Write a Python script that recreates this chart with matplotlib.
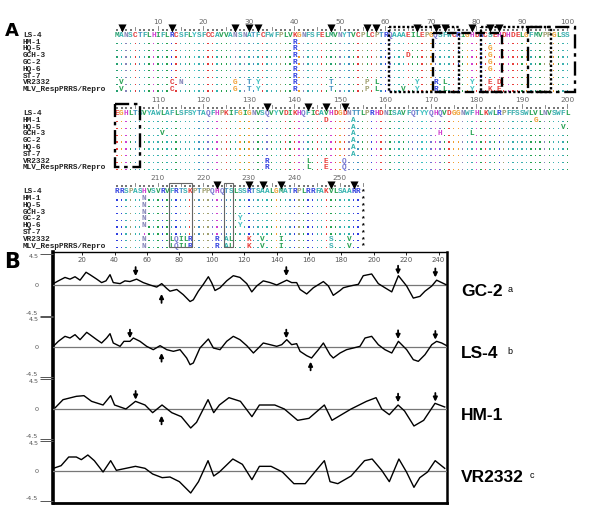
import matplotlib
matplotlib.use("Agg")
import matplotlib.pyplot as plt
from matplotlib.patches import Rectangle

# ---------------- data ----------------
strains = ["LS-4", "HM-1", "HQ-5", "GCH-3", "GC-2", "HQ-6", "ST-7", "VR2332", "MLV_RespPRRS/Repro"]

ls4_block1 = "MANSCTFLHIFLRCSFLYSFCCAVVANSNATFCFWFPLVKGNFSFELMVNYTVCPLCPTRQAAAEILEPGQSFWCRIGHDRCSEHDHDELGFMVPPGLSS"
ls4_block2 = "EGHLTSVYAWLAFLSFSYTAQFHPKIFGIGNVSQVYVDIKHQFICAVHDGDNTTLPRHDNISAVFQTYYQHQVDGGNWFHLKWLRPFFSSWLVLNVSWFL"
ls4_block3 = "RRSPASHVSVRVFRTSKPTPPQHQTSLSSRTSAALGMATRPLRRFAKVLSAARR*"
block_starts = [1, 101, 201]

diffs = {
    "HM-1": {40: "R", 147: "D", 153: "A", 193: "G", 207: "N"},
    "HQ-5": {40: "R", 83: "G", 153: "A", 199: "V", 207: "N"},
    "GCH-3": {40: "R", 65: "D", 83: "G", 111: "V", 153: "A", 172: "H", 179: "L", 207: "N"},
    "GC-2": {40: "R", 83: "G", 153: "A", 207: "N", 228: "Y"},
    "HQ-6": {40: "R", 83: "G", 153: "A", 207: "N", 228: "Y"},
    "ST-7": {40: "R", 153: "A"},
    "VR2332": {2: "V", 13: "C", 15: "N", 27: "G", 30: "T", 32: "Y", 40: "R", 48: "T", 56: "P",
               58: "L", 67: "Y", 71: "R", 73: "L", 79: "Y", 83: "E", 85: "D", 134: "R", 143: "L",
               147: "E", 151: "Q", 207: "N", 213: "L", 214: "Q", 215: "I", 216: "L", 217: "R",
               223: "R", 225: "A", 226: "L", 230: "K", 233: "V", 237: "I", 248: "S", 252: "V"},
    "MLV_RespPRRS/Repro": {2: "V", 13: "C", 27: "G", 30: "T", 32: "Y", 40: "R", 48: "T", 56: "P",
                           58: "L", 64: "V", 67: "Y", 71: "R", 73: "L", 79: "Y", 83: "K", 85: "E",
                           134: "R", 143: "L", 147: "E", 151: "Q", 207: "N", 213: "L", 214: "Q",
                           215: "I", 216: "L", 217: "R", 223: "R", 225: "A", 226: "L", 230: "K",
                           233: "V", 237: "I", 248: "S", 252: "V"},
}

triangle_sites = [2, 13, 27, 30, 32, 48, 56, 58, 67, 71, 73, 79, 83, 85,
                  134, 143, 147, 151, 223, 230, 233, 237, 248, 253]

aa_colors = {"A": "#2fb2ae", "C": "#e03a3a", "D": "#e8403c", "E": "#e8403c", "F": "#36acac",
             "G": "#f0a030", "H": "#d040d0", "I": "#25a050", "K": "#e8403c", "L": "#25a050",
             "M": "#25a070", "N": "#8585b8", "P": "#a0a070", "Q": "#7575d0", "R": "#2f3fe0",
             "S": "#3cb0b0", "T": "#3e90c0", "V": "#25a050", "W": "#3cb0b0", "Y": "#3cc0c0",
             "*": "black"}

# hydrophobicity profiles (residue position, value)
gc2_profile = [(2.2, 0.2), (5.3, 0.6), (9.4, 1.1), (12.5, 0.85), (15.6, 1.2), (18.7, 0.7), (22.4, 1.85),
               (24.8, 1.5), (29, 0.85), (32, 0.35), (34.7, 0.6), (37.2, 1.5), (39.2, 0.35), (43.4, 0.2),
               (46.4, 0.6), (49.5, 0.5), (53.6, 0.85), (57.7, 0.35), (61.9, 0), (66, -0.3), (69.1, 0.2),
               (72.2, -0.5), (74.2, -0.9), (78.4, -0.65), (82.4, -1.4), (86.6, -2.4), (88.6, -2.15),
               (91.7, -0.9), (94.8, 0.1), (97.9, 1.2), (99.9, 0.35), (102, -0.8), (105.1, -0.4),
               (109.2, 0.6), (113.3, 1.35), (117.4, 1.1), (121.6, 0.2), (124.7, -1.0), (127.7, -0.15),
               (131.8, 0.6), (136, 0.35), (140.1, 0), (143.2, 0.35), (146.3, 0.7), (149.3, 0.35),
               (152.4, 0.35), (154.5, -0.65), (158.6, -1.3), (162.7, -0.4), (168.9, 0.5), (172, -0.15),
               (175, -1.5), (179.2, -0.8), (181.2, -0.4), (185.3, -0.15), (190.5, 0.1), (193.5, 1.35),
               (198.7, 1.6), (202.8, 0.2), (206.9, -0.4), (211.1, -1.0), (215.2, 1.35), (220.3, -0.15),
               (224.4, -1.9), (228.5, -1.65), (231.6, -0.9), (235.8, -0.15), (238.8, 0.7), (241.9, 0.35),
               (245, 0)]
ls4_profile = [(2.2, 0.1), (5.3, 0.85), (9.4, 1.6), (12.5, 1.35), (15.6, 1.85), (18.7, 1.1), (22.8, 2.2),
               (24.8, 1.85), (29, 1.1), (32, 0.6), (35.1, 1.35), (37.2, 2.0), (39.2, 0.6), (43.4, 0.1),
               (45.8, 0.85), (49.5, 0.85), (51.6, 1.35), (55.7, 0.85), (59.8, 0.1), (63.9, -0.4),
               (68.1, 0.2), (72.2, -0.4), (76.3, -0.65), (80.4, -0.4), (84.5, -1.65), (86.6, -2.65),
               (88.6, -2.4), (92.7, -0.15), (97.9, 1.2), (101, -0.15), (105.1, -0.4), (109.2, 0.85),
               (113.3, 1.6), (117.4, 1.1), (121.6, 0.2), (125.7, -0.9), (128.8, -0.15), (131.8, 0.6),
               (136, 0.35), (140.1, 0.1), (143.2, 0.35), (146.3, 1.1), (149.3, 0.35), (152.4, 0.5),
               (154.5, -0.65), (158.6, -1.3), (161.6, -1.65), (165.8, -0.4), (168.9, 0.6), (173, -1.15),
               (175, -1.65), (179.2, -0.9), (183.2, -0.4), (187.4, -0.15), (191.5, 0.1), (194.6, 1.35),
               (198.7, 1.6), (202.8, 0.35), (206.9, -0.4), (211.1, -0.9), (215.2, 0.85), (220.3, -0.4),
               (224.4, -1.9), (227.5, -2.15), (231.6, -1.15), (235.8, 0.35), (238.8, 0.85), (241.9, 0.6),
               (245, 0.2)]
hm1_profile = [(3.4, 0.2), (8.2, 1.4), (16.4, 1.9), (21.1, 2.0), (25.8, 1.15), (32.9, 0.6), (37.6, 2.0),
               (40, 0.6), (47, 0), (52.9, 1.15), (58.8, 0.6), (63.5, -0.55), (69.3, 0.6), (75.3, -0.55),
               (81.2, -1.15), (87, -2.85), (90.6, -2.0), (97.7, 1.4), (101.2, -0.55), (104.7, 0.6),
               (110.6, 1.7), (117.7, 1.15), (124.8, -1.15), (129.4, 0.6), (138.9, 0.6), (144.8, 0),
               (153, -1.7), (160, -1.4), (169.5, 0.6), (174.2, -1.7), (180.1, -0.85), (186, 0),
               (195.5, 1.15), (201.4, 1.7), (204.9, 0), (209.6, -0.85), (215, 0.6), (219, -0.3),
               (224.8, -2.55), (230.8, -1.7), (237.8, 0.85), (243.8, 0.3)]
vr2332_profile = [(2.2, 0.4), (7, 0.8), (11.7, 2.1), (16.4, 2.1), (19.5, 1.7), (23.5, 2.4), (27.5, 1.55),
                  (32.9, -0.15), (37.6, 1.55), (41.1, 0.1), (47, 0.4), (52.9, 0.7), (58.8, 0.4),
                  (63.5, -0.45), (69.4, -1.0), (74.2, -0.9), (80, -1.6), (87, -3.3), (91.8, -1.6),
                  (97.7, 1.55), (101.2, -0.75), (104.7, -0.15), (113, 1.8), (118.9, 1.0), (124.8, -1.3),
                  (129.4, 0.7), (136.6, 0.7), (143.6, -0.15), (150.7, -1.9), (157.7, -1.9), (163.6, -0.15),
                  (169.5, 1.55), (173, -1.6), (177.8, -1.9), (186, -0.75), (194.3, 1.55), (199, 1.8),
                  (204.9, 0.1), (209.6, -1.6), (215.5, 1.8), (220.2, -0.15), (224.8, -2.45), (228.4, -1.0),
                  (233.2, -0.15), (237.9, 1.55), (243.8, 0.4)]

profile_names = ["GC-2", "LS-4", "HM-1", "VR2332"]
profile_sups = ["a", "b", "", "c"]
profiles = [gc2_profile, ls4_profile, hm1_profile, vr2332_profile]
# arrows: (position, tip level)
down_arrows = [[(53, 1.3), (146, 1.3), (215, 1.5), (238, 1.1)],
               [(49.5, 1.3), (146, 1.3), (215, 1.2), (238, 1.1)],
               [(53, 1.4), (215, 1.0), (238, 1.1)],
               []]
up_arrows = [[(69, -1.3)], [(69, -0.9), (161, -2.2)], [(69, -1.0)], []]
top_ticks = [20, 40, 60, 80, 100, 120, 140, 160, 180, 200, 220, 240]

# ---------------- figure ----------------
W, H = 600, 514
fig = plt.figure(figsize=(W / 100, H / 100), dpi=100)
fig.patch.set_facecolor("white")

def c_of_px(x):
    return (x - 117) / 4.55 + 1

def row_of_px(y):
    return (y - 28.5) / 6.8

def rect(x0, y0, x1, y1):
    return [x0 / W, 1 - y1 / H, (x1 - x0) / W, (y1 - y0) / H]

axA = fig.add_axes([0, 0, 1, 1])
axA.set_xlim(c_of_px(0), c_of_px(W))
axA.set_ylim(row_of_px(H), row_of_px(0))
axA.axis("off")

ls4_full = ls4_block1 + ls4_block2 + ls4_block3
blocks = [ls4_block1, ls4_block2, ls4_block3]
ruler_rows = [0.0, 11.5, 23.0]
seq_font = dict(family="Liberation Mono", weight="bold", fontsize=5.6)

tri_c, tri_r = [], []
for b, seg in enumerate(blocks):
    start = block_starts[b]
    rr = ruler_rows[b]
    # ruler
    dot_c = []
    for j in range(1, len(seg) + 1):
        pos = start + j - 1
        if pos % 10 == 0:
            axA.plot([j, j], [rr - 0.35, rr + 0.2], color="#777777", lw=0.6)
            axA.text(j, rr - 0.95, str(pos), ha="center", va="center", fontsize=5.3,
                     color="#666666", family="DejaVu Sans")
        elif pos % 5 == 0:
            axA.plot([j, j], [rr - 0.25, rr + 0.2], color="#777777", lw=0.6)
        else:
            dot_c.append(j)
        if pos in triangle_sites:
            tri_c.append(j)
            tri_r.append(rr)
    axA.scatter(dot_c, [rr + 0.15] * len(dot_c), s=0.8, marker="s", color="#777777", linewidths=0)
    # rows
    for i, name in enumerate(strains):
        y = rr + 1 + i
        axA.text(c_of_px(23), y, name, ha="left", va="center", color="#222222", **seq_font)
        dx, dcol = [], []
        for j, ch in enumerate(seg, start=1):
            pos = start + j - 1
            if i == 0 or ch == "*":
                axA.text(j, y, ch, ha="center", va="center", color=aa_colors.get(ch, "k"), **seq_font)
            elif pos in diffs[name]:
                d = diffs[name][pos]
                axA.text(j, y, d, ha="center", va="center", color=aa_colors.get(d, "k"), **seq_font)
            else:
                dx.append(j)
                dcol.append(aa_colors.get(ch, "k"))
        axA.scatter(dx, [y + 0.2] * len(dx), s=1.0, marker="s", c=dcol, linewidths=0)

axA.scatter(tri_c, tri_r, marker="v", s=34, color="black", zorder=5, linewidths=0)

# boxes in block 1 / 2
dot_ls = (0, (1, 0.9))
dash_ls = (0, (4, 2))
dashdot_ls = (0, (6, 2, 1.5, 2))
box_specs = [((60.8, -0.2), 76.2 - 60.8, 9.5, dot_ls),
             ((70.4, 0.6), 85.6 - 70.4, 8.7, dash_ls),
             ((81.0, -0.2), 96.4 - 81.0, 9.5, dot_ls),
             ((91.3, -0.2), 101.7 - 91.3, 9.5, dashdot_ls),
             ((0.56, 11.1), 6.05 - 0.56, 9.3, dashdot_ls)]
for (xy, w, h, ls) in box_specs:
    axA.add_patch(Rectangle(xy, w, h, fill=False, lw=1.7, ls=ls, edgecolor="black", zorder=4))
for (x0, x1) in [(12.5, 17.5), (24.5, 26.5)]:
    axA.add_patch(Rectangle((x0, 22.7), x1 - x0, 9.4, fill=False, lw=0.8, edgecolor="#666666", zorder=4))

fig.text(5 / W, 1 - 36 / H, "A", fontsize=13, weight="bold", family="DejaVu Sans", va="baseline")
fig.text(4 / W, 1 - 268 / H, "B", fontsize=15, weight="bold", family="DejaVu Sans", va="baseline")

# ---------------- panel B ----------------
x_lo, x_hi = 2.0, 245.2
fx0, fx1, fy0, fy1 = 53, 447, 252, 503
frame = fig.add_axes(rect(fx0, fy0, fx1, fy1))
frame.set_facecolor("none")
frame.set_xlim(x_lo, x_hi)
frame.set_ylim(0, 1)
frame.set_yticks([])
frame.spines["left"].set_linewidth(2.6)
frame.spines["right"].set_linewidth(1.8)
frame.spines["bottom"].set_linewidth(2.0)
frame.spines["top"].set_linewidth(1.0)
frame.set_xticks(top_ticks)
frame.set_xticklabels([str(t) for t in top_ticks])
frame.tick_params(axis="x", bottom=False, labelbottom=False, top=True, labeltop=True,
                  direction="in", length=2, width=0.6, pad=-8, labelsize=5, labelcolor="#555555")

panels_px = [(254, 316), (317, 377), (379, 439), (441, 501)]
for k, (t, btm) in enumerate(panels_px):
    ax = fig.add_axes(rect(fx0, t, fx1, btm))
    ax.set_facecolor("none")
    ax.set_xlim(x_lo, x_hi)
    ax.set_ylim(-4.5, 4.5)
    for s in ax.spines.values():
        s.set_visible(False)
    ax.set_xticks([])
    ax.set_yticks([-4.5, 0, 4.5])
    ax.set_yticklabels(["-4.5", "0", "4.5"])
    ax.tick_params(axis="y", length=9.5, width=0.7, color="#555555", labelsize=4.6,
                   labelcolor="#555555", pad=1)
    ticks = ax.yaxis.get_major_ticks()
    ticks[1].tick1line.set_visible(False)
    labs = ax.get_yticklabels()
    labs[0].set_va("bottom")
    labs[2].set_va("top")
    ax.axhline(0, color="#777777", lw=0.9, zorder=1)
    xs = [p for p, v in profiles[k]]
    ys = [v for p, v in profiles[k]]
    ax.plot(xs, ys, color="black", lw=1.0, zorder=3)
    for (p, tip) in down_arrows[k]:
        ax.annotate("", xy=(p, tip), xytext=(p, tip + 1.3),
                    arrowprops=dict(arrowstyle="-|>", color="black", lw=1.3, mutation_scale=6,
                                    shrinkA=0, shrinkB=0))
    for (p, tip) in up_arrows[k]:
        ax.annotate("", xy=(p, tip), xytext=(p, tip - 1.3),
                    arrowprops=dict(arrowstyle="-|>", color="black", lw=1.3, mutation_scale=6,
                                    shrinkA=0, shrinkB=0))
    zero_px = (t + btm) / 2
    fig.text(461 / W, 1 - (zero_px + 7) / H, profile_names[k], fontsize=12.5, weight="bold",
             family="Liberation Sans", va="center", ha="left")
    if profile_sups[k]:
        wpx = {"GC-2": 41, "LS-4": 40, "VR2332": 63}[profile_names[k]]
        fig.text((461 + wpx + 6) / W, 1 - (zero_px + 5) / H, profile_sups[k], fontsize=6.5,
                 family="Liberation Sans", va="center", ha="left")

fig.savefig("out.png", dpi=100, facecolor="white")
